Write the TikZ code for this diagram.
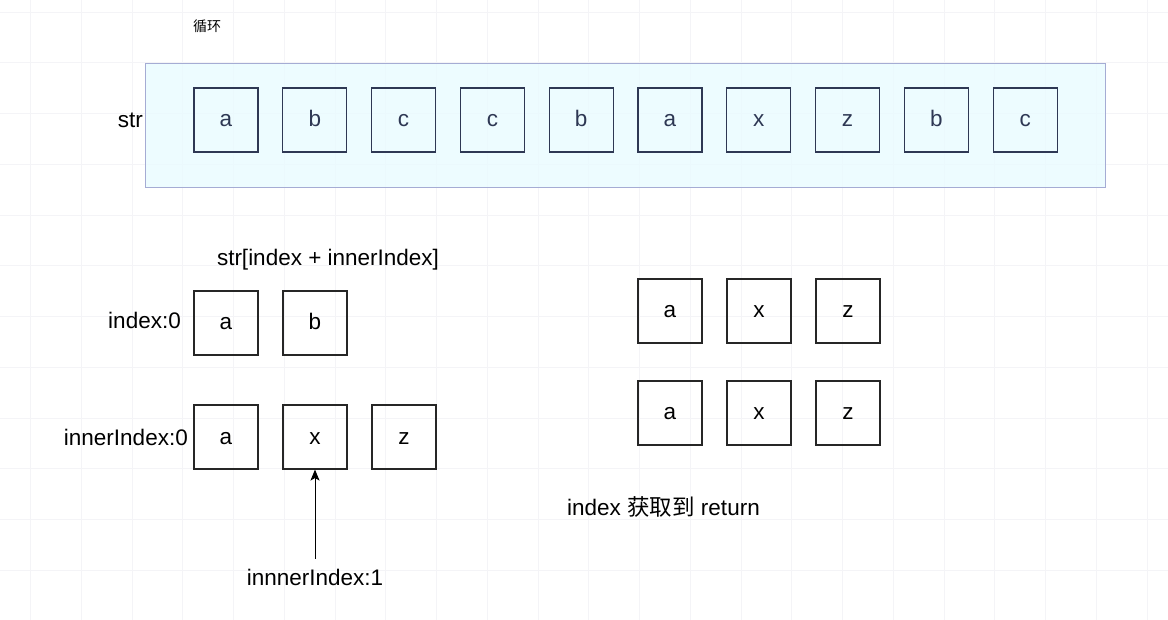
\documentclass[tikz,border=0pt]{standalone}
\usepackage{fontspec}
\setmainfont{Liberation Sans}
\newfontfamily\cjkfont{Noto Sans CJK SC}
\usetikzlibrary{arrows.meta,positioning}
\definecolor{boxline}{RGB}{46,56,84}
\definecolor{panel}{RGB}{234,251,255}
\definecolor{panelline}{RGB}{165,172,212}
\definecolor{gridline}{RGB}{244,244,247}
\tikzset{
  cell/.style={draw=black!85,line width=1.1pt,minimum size=64pt,inner sep=0pt,text height=14pt,text depth=0pt,font=\fontsize{22.5}{26}\selectfont},
  strcell/.style={cell,draw=boxline,text=boxline},
  lbl/.style={font=\fontsize{22.5}{26}\selectfont,inner sep=0pt}
}

\begin{document}
\begin{tikzpicture}[x=1pt,y=-1pt]
        \useasboundingbox (0,0) rectangle (1168,620);
        \foreach \k in {0,...,22} \draw[gridline,line width=0.7pt] (30.5+\k*50.75,0) -- ++(0,620);
        \foreach \k in {0,...,12} \draw[gridline,line width=0.7pt] (0,12+\k*50.75) -- ++(1168,0);
        \node[draw=panelline,fill=panel,fill opacity=0.85,line width=0.8pt,minimum width=960pt,minimum height=124pt,inner sep=0pt] (panel) at (625,125) {};
        \node[font=\cjkfont\fontsize{14}{16}\selectfont,inner sep=0pt] (loop) at (207,26) {循环};
        \node[lbl,anchor=east] (strlbl) at (143,120) {str};
        \foreach \ch [count=\i from 0] in {a,b,c,c,b,a,x,z,b,c} \node[strcell] (s\i) at (226+\i*88.8,120) {\ch};
        \node[lbl] (expr) at (328,260) {str[index + innerIndex]};
        \node[lbl,anchor=east] (idxlbl) at (181,320) {index:0};
        \foreach \ch [count=\i from 0] in {a,b} \node[cell] (p\i) at (226+\i*89,323) {\ch};
        \node[lbl,anchor=east] (innerlbl) at (188,437) {innerIndex:0};
        \foreach \ch [count=\i from 0] in {a,x,z} \node[cell] (q\i) at (226+\i*89,437) {\ch};
        \node[lbl] (ptr) at (315,577) {innnerIndex:1};
        \draw[-{Stealth[length=11pt,width=9pt,inset=2.5pt]},line width=1pt] ([yshift=10pt]ptr.north) -- (q1.south);
        \foreach \ch [count=\i from 0] in {a,x,z} {\node[cell] (r\i) at (670+\i*89,311) {\ch}; \node[cell] (t\i) at (670+\i*89,413) {\ch};}
        \node[lbl,anchor=west] (ret) at (567,507) {index {\cjkfont 获取到} return};
      \end{tikzpicture}
\end{document}
